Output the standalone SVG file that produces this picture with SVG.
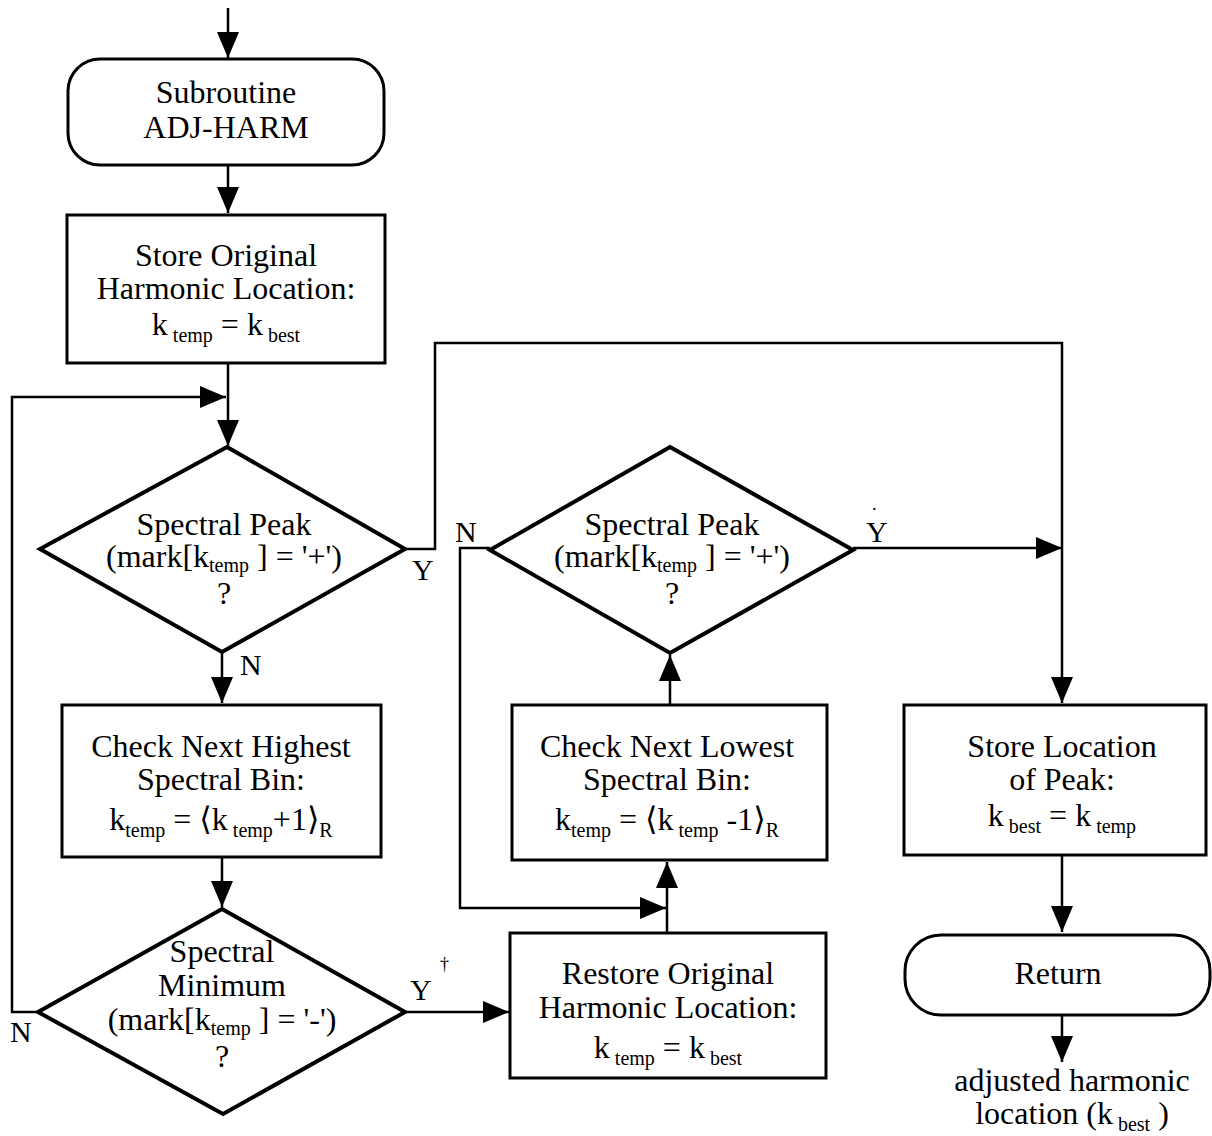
<svg xmlns="http://www.w3.org/2000/svg" width="1212" height="1136" viewBox="0 0 1212 1136">
<style>
.bg{fill:#fff}
.box{fill:#fff;stroke:#000;stroke-width:3}
.dia{fill:#fff;stroke:#000;stroke-width:4;stroke-linejoin:miter}
.con{fill:none;stroke:#000;stroke-width:2.5}
.t{font-family:"Liberation Serif","DejaVu Serif",serif;font-size:32px;fill:#000;text-anchor:middle}
.s{font-size:20px}
.lab{font-family:"Liberation Serif","DejaVu Serif",serif;font-size:30px;fill:#000}
</style>
<defs>
<marker id="ah" viewBox="0 0 26 22" refX="26" refY="11" markerWidth="26" markerHeight="22" markerUnits="userSpaceOnUse" orient="auto">
<path d="M0,0 L26,11 L0,22 Z" fill="#000"/>
</marker>
</defs>
<rect class="bg" x="0" y="0" width="1212" height="1136"/>
<g id="connectors">
<path class="con" d="M228,8 V58" marker-end="url(#ah)"/>
<path class="con" d="M228,165 V213" marker-end="url(#ah)"/>
<path class="con" d="M228,363 V446" marker-end="url(#ah)"/>
<path class="con" d="M38,1012 H12 V397 H226" marker-end="url(#ah)"/>
<path class="con" d="M222,652 V703" marker-end="url(#ah)"/>
<path class="con" d="M222,857 V907" marker-end="url(#ah)"/>
<path class="con" d="M405,1012 H509" marker-end="url(#ah)"/>
<path class="con" d="M667,933 V862" marker-end="url(#ah)"/>
<path class="con" d="M490,548 H460 V908 H666" marker-end="url(#ah)"/>
<path class="con" d="M670,705 V655" marker-end="url(#ah)"/>
<path class="con" d="M853,548 H1062" marker-end="url(#ah)"/>
<path class="con" d="M405,549 H435 V343 H1062 V703" marker-end="url(#ah)"/>
<path class="con" d="M1062,855 V932" marker-end="url(#ah)"/>
<path class="con" d="M1062,1015 V1062" marker-end="url(#ah)"/>
</g>
<g id="start">
<rect class="box" x="68" y="59" width="316" height="106" rx="32"/>
<text class="t" x="226" y="103">Subroutine</text>
<text class="t" x="226" y="138">ADJ-HARM</text>
</g>
<g id="store-original">
<rect class="box" x="67" y="215" width="318" height="148"/>
<text class="t" x="226" y="266">Store Original</text>
<text class="t" x="226" y="299">Harmonic Location:</text>
<text class="t" x="226" y="335">k<tspan class="s" dy="7"> temp</tspan><tspan dy="-7"> = k</tspan><tspan class="s" dy="7"> best</tspan></text>
</g>
<g id="peak1">
<polygon class="dia" points="227,447 405,549 222,652 40,549"/>
<text class="t" x="224" y="535">Spectral Peak</text>
<text class="t" x="224" y="567">(mark[k<tspan class="s" dy="5">temp</tspan><tspan dy="-5"> ] = '+')</tspan></text>
<text class="t" x="224" y="604">?</text>
</g>
<g id="next-highest">
<rect class="box" x="62" y="705" width="319" height="152"/>
<text class="t" x="221" y="757">Check Next Highest</text>
<text class="t" x="221" y="790">Spectral Bin:</text>
<text class="t" x="221" y="830">k<tspan class="s" dy="7">temp</tspan><tspan dy="-7"> = ⟨k</tspan><tspan class="s" dy="7"> temp</tspan><tspan dy="-7">+1⟩</tspan><tspan class="s" dy="7">R</tspan></text>
</g>
<g id="minimum">
<polygon class="dia" points="222,909 405,1012 223,1114 38,1012"/>
<text class="t" x="222" y="962">Spectral</text>
<text class="t" x="222" y="996">Minimum</text>
<text class="t" x="222" y="1030">(mark[k<tspan class="s" dy="5">temp</tspan><tspan dy="-5"> ] = '-')</tspan></text>
<text class="t" x="222" y="1067">?</text>
</g>
<g id="restore">
<rect class="box" x="510" y="933" width="316" height="145"/>
<text class="t" x="668" y="984">Restore Original</text>
<text class="t" x="668" y="1018">Harmonic Location:</text>
<text class="t" x="668" y="1058">k<tspan class="s" dy="7"> temp</tspan><tspan dy="-7"> = k</tspan><tspan class="s" dy="7"> best</tspan></text>
</g>
<g id="next-lowest">
<rect class="box" x="512" y="705" width="315" height="155"/>
<text class="t" x="667" y="757">Check Next Lowest</text>
<text class="t" x="667" y="790">Spectral Bin:</text>
<text class="t" x="667" y="830">k<tspan class="s" dy="7">temp</tspan><tspan dy="-7"> = ⟨k</tspan><tspan class="s" dy="7"> temp</tspan><tspan dy="-7"> -1⟩</tspan><tspan class="s" dy="7">R</tspan></text>
</g>
<g id="peak2">
<polygon class="dia" points="670,447 853,550 670,653 490,550"/>
<text class="t" x="672" y="535">Spectral Peak</text>
<text class="t" x="672" y="567">(mark[k<tspan class="s" dy="5">temp</tspan><tspan dy="-5"> ] = '+')</tspan></text>
<text class="t" x="672" y="604">?</text>
</g>
<g id="store-peak">
<rect class="box" x="904" y="705" width="302" height="150"/>
<text class="t" x="1062" y="757">Store Location</text>
<text class="t" x="1062" y="790">of Peak:</text>
<text class="t" x="1062" y="826">k<tspan class="s" dy="7"> best</tspan><tspan dy="-7"> = k</tspan><tspan class="s" dy="7"> temp</tspan></text>
</g>
<g id="return">
<rect class="box" x="905" y="935" width="305" height="80" rx="36"/>
<text class="t" x="1058" y="984">Return</text>
</g>
<g id="output">
<text class="t" x="1072" y="1091">adjusted harmonic</text>
<text class="t" x="1072" y="1124">location (k<tspan class="s" dy="7"> best</tspan><tspan dy="-7"> )</tspan></text>
</g>
<g id="labels">
<text class="lab" x="412" y="580">Y</text>
<text class="lab" x="240" y="675">N</text>
<text class="lab" x="455" y="542">N</text>
<text class="lab" x="866" y="542">Y</text>
<text class="lab" x="872" y="510" style="font-size:18px">.</text>
<text class="lab" x="10" y="1042">N</text>
<text class="lab" x="410" y="1000">Y</text>
<text class="lab" x="440" y="970" style="font-size:18px">†</text>
</g>
</svg>
